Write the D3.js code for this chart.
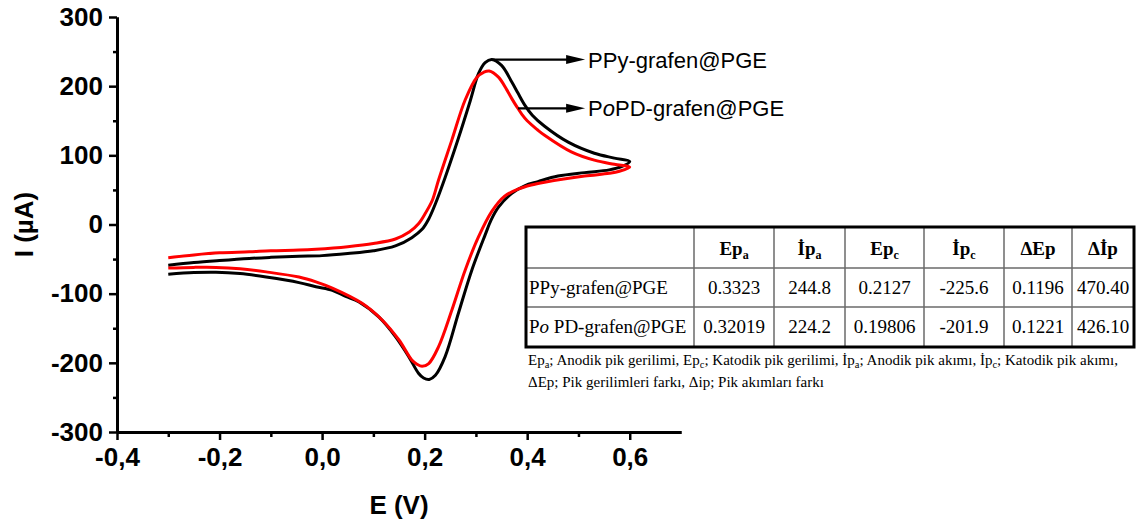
<!DOCTYPE html>
<html>
<head>
<meta charset="utf-8">
<script src="https://cdn.jsdelivr.net/npm/d3@7"></script>
<style>
  body { margin: 0; background: #fff; }
  svg { display: block; }
</style>
</head>
<body>
<div class="graphContainer"></div>
<script>
var width = 1141;
var height = 525;

// PPy-grafen@PGE (black), forward scan then reverse scan
var ppyE = [-0.300, -0.250, -0.200, -0.142, -0.100, -0.045, 0.000, 0.050, 0.100, 0.143, 0.175, 0.195, 0.208, 0.221, 0.240, 0.266, 0.289, 0.305, 0.318, 0.331, 0.350, 0.370, 0.382, 0.395, 0.410, 0.434, 0.480, 0.531, 0.570, 0.600,
  0.585, 0.560, 0.512, 0.460, 0.421, 0.395, 0.370, 0.344, 0.330, 0.318, 0.292, 0.266, 0.240, 0.221, 0.209, 0.198, 0.188, 0.169, 0.143, 0.111, 0.072, 0.046, 0.020, -0.012, -0.045, -0.109, -0.160, -0.207, -0.250, -0.300];
var ppyI = [-59, -55, -52, -49, -47.5, -46, -45, -42, -38, -31, -19, -7, 8, 30, 68, 125, 179, 218, 234, 238.5, 230, 206, 190, 173, 158, 142, 119, 103, 96, 91,
  84, 79, 75, 70, 62, 56, 45, 25, 7, -15, -66, -128, -191, -218, -224, -222, -215, -191, -162, -134, -112, -104, -95, -90, -84, -76, -71, -69, -69.5, -72];

// PoPD-grafen@PGE (red)
var popdE = [-0.300, -0.250, -0.200, -0.142, -0.100, -0.045, -0.012, 0.050, 0.100, 0.143, 0.170, 0.188, 0.202, 0.215, 0.227, 0.253, 0.279, 0.302, 0.315, 0.326, 0.344, 0.360, 0.370, 0.380, 0.390, 0.400, 0.420, 0.434, 0.486, 0.531, 0.570, 0.600,
  0.580, 0.560, 0.512, 0.434, 0.408, 0.382, 0.356, 0.331, 0.305, 0.279, 0.253, 0.227, 0.208, 0.195, 0.185, 0.175, 0.150, 0.117, 0.078, 0.020, -0.012, -0.045, -0.109, -0.160, -0.207, -0.250, -0.300];
var popdI = [-48, -44, -41, -39.5, -38, -37, -35.7, -32, -27.5, -21, -11, 1, 17, 35, 64, 122, 180, 213, 220, 222, 213, 195, 182, 170, 159, 150, 137, 129, 105, 93, 87, 83,
  77, 74, 70, 61, 57, 51, 41, 19, -18, -66, -124, -177, -201, -205, -202, -196, -167, -138, -114, -92, -83, -76, -68.5, -64, -62, -62, -63];

var xTicks = [-0.4, -0.2, 0, 0.2, 0.4, 0.6];
var xMinor = [-0.3, -0.1, 0.1, 0.3, 0.5];
var yTicks = [-300, -200, -100, 0, 100, 200, 300];
var yMinor = [-250, -150, -50, 50, 150, 250];

var seriesNames = ["PPy-grafen@PGE", "PoPD-grafen@PGE"];
var seriesColours = ["#000000", "#ff0000"];
// where the label arrows start on each curve
var anchorE = [0.331, 0.382];
var anchorI = [238.5, 168];
var arrowTipE = 0.513;

// table
var tableHead = [["Ep", "a"], ["\u0130p", "a"], ["Ep", "c"], ["\u0130p", "c"], ["\u0394Ep", ""], ["\u0394\u0130p", ""]];
var ppyRow = ["0.3323", "244.8", "0.2127", "-225.6", "0.1196", "470.40"];
var popdRow = ["0.32019", "224.2", "0.19806", "-201.9", "0.1221", "426.10"];

var svgContainer = d3
  .select(".graphContainer")
  .append("svg")
  .attr("width", width)
  .attr("height", height)
  .style("background", "#fff");

var xScale = d3.scaleLinear().domain([-0.4, 0.7]).range([117, 681]);
var yScale = d3.scaleLinear().domain([-300, 300]).range([432, 17]);

var sans = "'Liberation Sans', Arial, sans-serif";
var serif = "'Liberation Serif', 'Times New Roman', serif";

//x axis

var xAxis = d3
  .axisBottom(xScale)
  .tickValues(xTicks)
  .tickSize(8)
  .tickSizeOuter(0)
  .tickPadding(8)
  .tickFormat(function (d) {
    return d3.format(".1f")(d).replace("\u2212", "-").replace(".", ",");
  });

var xMinorAxis = d3.axisBottom(xScale).tickValues(xMinor).tickSize(5).tickSizeOuter(0).tickFormat("");

svgContainer.append("g").attr("transform", "translate(0," + yScale(-300) + ")").call(xMinorAxis);
var xAxisGroup = svgContainer
  .append("g")
  .attr("id", "x-axis")
  .attr("transform", "translate(0," + yScale(-300) + ")")
  .call(xAxis);

//y axis

var yAxis = d3
  .axisLeft(yScale)
  .tickValues(yTicks)
  .tickSize(8)
  .tickSizeOuter(0)
  .tickPadding(6)
  .tickFormat(function (d) {
    return d3.format("d")(d).replace("\u2212", "-");
  });

var yMinorAxis = d3.axisLeft(yScale).tickValues(yMinor).tickSize(4).tickSizeOuter(0).tickFormat("");

svgContainer.append("g").attr("transform", "translate(" + xScale(-0.4) + ",0)").call(yMinorAxis);
var yAxisGroup = svgContainer
  .append("g")
  .attr("id", "y-axis")
  .attr("transform", "translate(" + xScale(-0.4) + ",0)")
  .call(yAxis);

svgContainer.selectAll(".domain").attr("stroke", "#000").attr("stroke-width", 3);
svgContainer.selectAll(".tick line").attr("stroke", "#000").attr("stroke-width", 2.5);
svgContainer
  .selectAll(".tick text")
  .attr("fill", "#000")
  .style("font-family", sans)
  .style("font-weight", "bold")
  .style("font-size", "26px");

// labels

svgContainer
  .append("text")
  .attr("x", (xScale(-0.4) + xScale(0.7)) / 2)
  .attr("y", 514)
  .attr("text-anchor", "middle")
  .style("font-family", sans)
  .style("font-weight", "bold")
  .style("font-size", "26px")
  .text("E (V)");

svgContainer
  .append("text")
  .attr("transform", "translate(33," + yScale(0) + ") rotate(-90)")
  .attr("text-anchor", "middle")
  .style("font-family", sans)
  .style("font-weight", "bold")
  .style("font-size", "26px")
  .text("I (\u00b5A)");

// curves

var line = d3
  .line()
  .x(function (d) { return xScale(d[0]); })
  .y(function (d) { return yScale(d[1]); })
  .curve(d3.curveCatmullRom.alpha(0.5));

var curves = [d3.zip(ppyE, ppyI), d3.zip(popdE, popdI)];

svgContainer
  .selectAll("path.cv")
  .data(curves)
  .enter()
  .append("path")
  .attr("class", "cv")
  .attr("d", line)
  .attr("fill", "none")
  .attr("stroke", function (d, i) { return seriesColours[i]; })
  .attr("stroke-width", 3)
  .attr("stroke-linejoin", "round");

// arrows + names

seriesNames.forEach(function (name, i) {
  var x0 = xScale(anchorE[i]);
  var y0 = yScale(anchorI[i]);
  var x1 = xScale(arrowTipE);
  svgContainer
    .append("line")
    .attr("x1", x0)
    .attr("y1", y0)
    .attr("x2", x1 - 15)
    .attr("y2", y0)
    .attr("stroke", "#000")
    .attr("stroke-width", 2.2);
  svgContainer
    .append("path")
    .attr("d", "M" + x1 + "," + y0 + "L" + (x1 - 19) + "," + (y0 - 4.5) + "L" + (x1 - 19) + "," + (y0 + 4.5) + "Z")
    .attr("fill", "#000");
  var t = svgContainer
    .append("text")
    .attr("x", x1 + 3)
    .attr("y", y0 + 8)
    .style("font-family", sans)
    .style("font-size", "22px");
  if (name.indexOf("PoPD") === 0) {
    t.append("tspan").text("P");
    t.append("tspan").style("font-style", "italic").text("o");
    t.append("tspan").text(name.slice(2));
  } else {
    t.text(name);
  }
});

// table

var colX = [526, 694, 774, 845, 924, 1004, 1072, 1134];
var rowY = [227, 268, 307, 347];

var table = svgContainer.append("g").attr("id", "table");

colX.slice(1, -1).forEach(function (x) {
  table.append("line").attr("x1", x).attr("x2", x).attr("y1", rowY[0]).attr("y2", rowY[3])
    .attr("stroke", "#6a6a6a").attr("stroke-width", 1.5);
});
rowY.slice(1, -1).forEach(function (y) {
  table.append("line").attr("x1", colX[0]).attr("x2", colX[7]).attr("y1", y).attr("y2", y)
    .attr("stroke", "#6a6a6a").attr("stroke-width", 1.5);
});
table.append("rect")
  .attr("x", colX[0]).attr("y", rowY[0])
  .attr("width", colX[7] - colX[0]).attr("height", rowY[3] - rowY[0])
  .attr("fill", "none").attr("stroke", "#000").attr("stroke-width", 3);

function cellCentre(j) { return (colX[j + 1] + colX[j + 2]) / 2; }

tableHead.forEach(function (h, j) {
  var t = table.append("text")
    .attr("x", cellCentre(j))
    .attr("y", 255)
    .attr("text-anchor", "middle")
    .style("font-family", serif)
    .style("font-weight", "bold")
    .style("font-size", "19px");
  t.append("tspan").text(h[0]);
  if (h[1]) t.append("tspan").attr("dy", 4).style("font-size", "12px").text(h[1]);
});

[ppyRow, popdRow].forEach(function (row, r) {
  var yb = r === 0 ? 294 : 333;
  var nm = table.append("text")
    .attr("x", colX[0] + 3)
    .attr("y", yb)
    .style("font-family", serif)
    .style("font-size", "19px");
  if (r === 0) {
    nm.text(seriesNames[0]);
  } else {
    nm.append("tspan").text("P");
    nm.append("tspan").style("font-style", "italic").text("o");
    nm.append("tspan").text(" PD-grafen@PGE");
  }
  row.forEach(function (v, j) {
    table.append("text")
      .attr("x", cellCentre(j))
      .attr("y", yb)
      .attr("text-anchor", "middle")
      .style("font-family", serif)
      .style("font-size", "19px")
      .text(v);
  });
});

// footnote

var notes = [
  [["Ep"], ["a", 1], ["; Anodik pik gerilimi, Ep"], ["c", 1], ["; Katodik pik gerilimi, \u0130p"], ["a", 1], ["; Anodik pik ak\u0131m\u0131, \u0130p"], ["c", 1], ["; Katodik pik ak\u0131m\u0131,"]],
  [["\u0394Ep; Pik gerilimleri fark\u0131, \u0394ip; Pik ak\u0131mlar\u0131 fark\u0131"]]
];

notes.forEach(function (parts, k) {
  var t = svgContainer.append("text")
    .attr("x", 528)
    .attr("y", k === 0 ? 365 : 387)
    .style("font-family", serif)
    .style("font-size", "15px");
  var shifted = false;
  parts.forEach(function (p) {
    var s = t.append("tspan").text(p[0]);
    if (p[1]) {
      s.attr("dy", 3).style("font-size", "10.5px");
      shifted = true;
    } else if (shifted) {
      s.attr("dy", -3);
      shifted = false;
    }
  });
});
</script>
</body>
</html>
